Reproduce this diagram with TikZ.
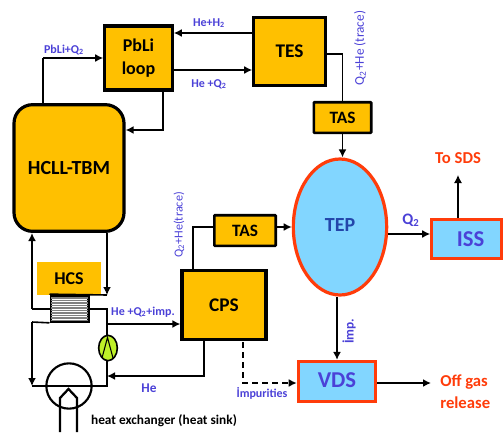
\documentclass[tikz,border=0pt]{standalone}
\usepackage{fontspec}
\setmainfont{Carlito}
\usetikzlibrary{arrows.meta,shapes.geometric,calc}
\definecolor{gold}{RGB}{255,192,0}
\definecolor{skyb}{RGB}{130,214,255}
\definecolor{redo}{RGB}{255,60,10}
\definecolor{lab}{RGB}{75,65,215}
\definecolor{dkb}{RGB}{35,70,170}
\definecolor{lime}{RGB}{190,240,40}
\tikzset{
 x=0.75pt,y=-0.75pt,
 bx/.style={draw=black,line width=2.4pt,fill=gold,inner sep=0pt,font=\fontsize{14.5}{17}\selectfont\bfseries,align=center},
 tasb/.style={bx,line width=2pt,rounded corners=0.6pt,font=\fontsize{13}{15}\selectfont\bfseries},
 sky/.style={draw=redo,line width=2.4pt,fill=skyb,inner sep=0pt,font=\fontsize{17}{19}\selectfont\bfseries},
 con/.style={draw=black,line width=1.2pt,-{Latex[length=6pt,width=6pt]}},
 pln/.style={draw=black,line width=1.2pt},
 lb/.style={text=lab,font=\fontsize{9}{10}\selectfont\bfseries,inner sep=0pt},
 rl/.style={text=redo,font=\fontsize{12.5}{16.5}\selectfont\bfseries,inner sep=0pt,align=left},
}
\newcommand{\sq}{\textsubscript{2}}
\begin{document}
\begin{tikzpicture}
\useasboundingbox (0,0) rectangle (503,432);
% boxes
\node[bx,minimum width=50.5pt,minimum height=48pt,font=\fontsize{13.5}{17}\selectfont\bfseries] (pbli) at (138.5,58) {PbLi\\loop};
\node[bx,minimum width=53.5pt,minimum height=50.5pt] (tes) at (289.5,51.5) {TES};
\node[tasb,minimum width=43pt,minimum height=23pt] (tas1) at (342.5,117.5) {TAS};
\node[tasb,minimum width=46pt,minimum height=23pt] (tas2) at (245,230.5) {TAS};
\node[bx,rounded corners=14pt,minimum width=82.5pt,minimum height=95pt,font=\fontsize{15}{17}\selectfont\bfseries] (tbm) at (69,168) {HCLL-TBM};
\node[bx,minimum width=63pt,minimum height=51.5pt] (cps) at (224,305) {CPS};
\node[fill=gold,minimum width=48pt,minimum height=24.5pt,inner sep=0pt,font=\fontsize{13.5}{16}\selectfont\bfseries] (hcs) at (69,278.5) {HCS};
\node[sky,ellipse,minimum width=70pt,minimum height=102pt,text=dkb,font=\fontsize{15}{17}\selectfont\bfseries] (tep) at (340,227) {\raisebox{3pt}{TEP}};
\node[sky,minimum width=52pt,minimum height=29pt,text=lab] (iss) at (466.5,239) {\hspace{6pt}ISS};
\node[sky,minimum width=58pt,minimum height=30pt,text=lab] (vds) at (337,381.5) {\raisebox{2pt}{VDS}};
% heat exchanger stack
\node[draw=black,line width=2pt,fill=white,minimum width=28pt,minimum height=19.5pt,inner sep=0pt] (hx) at (69.5,308.5) {};
\foreach \y in {298,300.5,303,305.5,308,310.5,313,315.5,318,320.5}
  \draw[gray,line width=1pt] (51,\y) -- (88,\y);
\node[draw=black,line width=1.2pt,ellipse,fill=lime,minimum width=14pt,minimum height=19pt,inner sep=0pt] (pump) at (108,348) {};
\draw[black,line width=0.8pt] (102,358) -- (107.5,337.5) -- (113,358);
\node[draw=black,line width=1.6pt,circle,minimum width=34pt,inner sep=0pt] (sink) at (69,386) {};
% corner coordinates
\coordinate (a) at (32,233);
\coordinate (b) at (32,309);
\coordinate (c) at (107,233);
\coordinate (d) at (107,295);
\coordinate (e) at (32,322);
\coordinate (f) at (32,386);
\coordinate (g) at (107,309);
\coordinate (h) at (107,386);
\coordinate (i) at (107,324);
\coordinate (j) at (107,376);
\coordinate (k) at (43,104);
\coordinate (l) at (43,58);
% loop lines
\draw[con] (b) -- (a);
\draw[pln] (hx.west |- b) -- (b);
\draw[con] (c) -- (d);
\draw[pln] (hx.north west) -- (d);
\draw[pln] (hx.east |- g) -- (g) -- (g |- pump.north);
\draw[pln] (h |- pump.south) -- (h) -- (f);
\draw[pln] (hx.south west) -- (e);
\draw[con] (e) -- (f);
\draw[con] (i) -- (cps.west |- i);
\draw[con] (cps.south -| 204,0) -- (204,376) -- (j);
% sink pipe
\coordinate (p1) at (60,432);
\coordinate (p2) at (60,398);
\coordinate (p3) at (68.5,389);
\coordinate (p4) at (77,398);
\coordinate (p5) at (77,432);
\draw[black,line width=1.7pt] (p1) -- (p2) -- (p3) -- (p4) -- (p5);
% upper
\draw[pln,line width=2pt] (k) -- (l);
\draw[con] (l) -- (pbli.west |- l);
\draw[con] (pbli.south -| 163,0) -- (163,130) -- (tbm.east |- 0,130);
\draw[con] (tes.west |- 0,33) -- (pbli.east |- 0,33);
\draw[con] (pbli.east |- 0,70) -- (tes.west |- 0,70);
\draw[pln] (tes.east |- 0,54) -- (342.5,54) -- (tas1.north);
\draw[con] (tas1.south) -- (tas1.south |- tep.north);
\draw[pln] (cps.north -| 193,0) -- (193,227) -- (tas2.west |- 0,227);
\draw[con] (tas2.east |- 0,227) -- (tep.west |- 0,227);
\draw[con] (tep.east |- 0,234) -- (iss.west |- 0,234);
\draw[con,line width=0.9pt] (iss.north -| 458,0) -- (458,175);
\draw[con] (tep.south -| 337,0) -- (vds.north -| 337,0);
\draw[con,line width=1.5pt,dash pattern=on 4.5pt off 3pt] (243,342) -- (243,383) -- (vds.west |- 0,383);
\draw[con] (vds.east |- 0,383) -- (431,383);
% labels
\node[lb] (t1) at (64,50) {PbLi+Q\sq};
\node[lb] (t2) at (209,23) {He+H\sq};
\node[lb] (t3) at (209,84) {He +Q\sq};
\node[lb,rotate=90,font=\fontsize{10}{11}\selectfont] (t4) at (360,48) {Q\sq+He (trace)};
\node[lb,rotate=90,font=\fontsize{9.2}{11}\selectfont] (t5) at (179,225) {Q\sq+He(trace)};
\node[lb] (t6) at (143,312) {He +Q\sq+imp.};
\node[lb,font=\fontsize{10}{11}\selectfont\bfseries] (t7) at (149,388) {He};
\node[lb] (t8) at (262,393) {İmpurities};
\node[lb,rotate=90,font=\fontsize{10}{11}\selectfont\bfseries] (t9) at (349,331) {İmp.};
\node[lb,font=\fontsize{12}{14}\selectfont\bfseries] (t10) at (411,220) {Q\sq};
\node[inner sep=0pt,font=\fontsize{10}{12}\selectfont\bfseries] (t11) at (164,421) {heat exchanger (heat sink)};
\node[rl] (t12) at (458,158) {To SDS};
\node[rl,anchor=north west] (t13) at (440,375) {Off gas\\release};
\end{tikzpicture}
\end{document}
